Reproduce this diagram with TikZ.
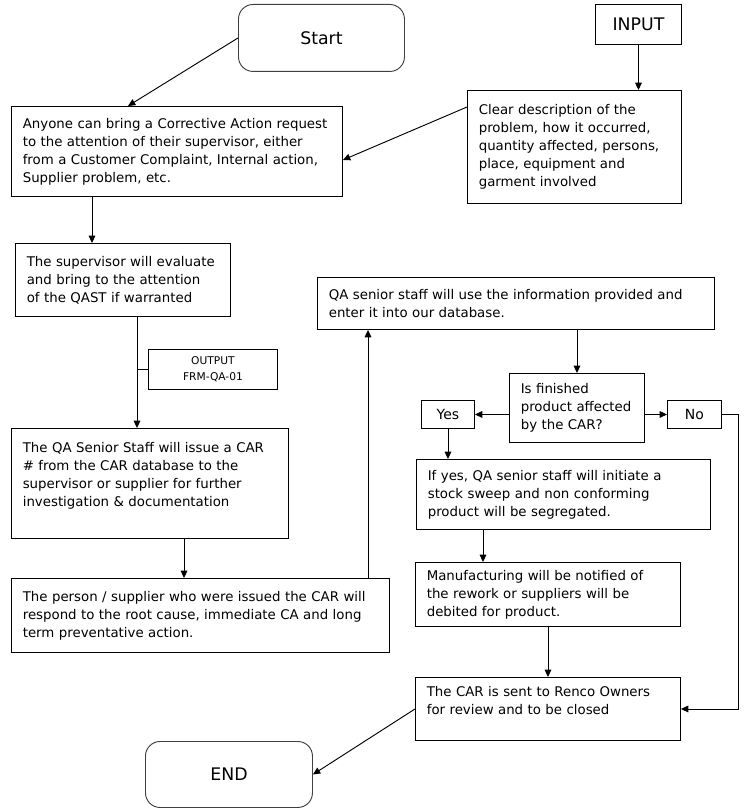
\documentclass[tikz,border=0pt]{standalone}
\usepackage{fontspec}
\setmainfont{DejaVu Sans}
\usetikzlibrary{arrows.meta, calc}

\tikzset{
  flow/.style={-{Triangle[length=5.5pt,width=5pt]}},
  stepbox/.style 2 args={draw, anchor=north west, align=left, inner xsep=8.5pt, inner ysep=0pt,
    text width=#1*0.75pt-17pt, minimum width=#1*0.75pt, minimum height=#2*0.75pt,
    font=\fontsize{10}{13.5}\selectfont},
  termbox/.style 2 args={draw=black!75, rounded corners=11pt, anchor=north west, inner sep=0pt,
    minimum width=#1*0.75pt, minimum height=#2*0.75pt, font=\fontsize{13}{15}\selectfont},
  tagbox/.style 2 args={draw, anchor=north west, align=center, inner sep=0pt,
    minimum width=#1*0.75pt, minimum height=#2*0.75pt},
}

\begin{document}
\begin{tikzpicture}[x=0.75pt, y=-0.75pt, line width=0.7pt]
    \useasboundingbox (0,0) rectangle (750,812);

    % Start and input
    \node[termbox={166}{67}] (start) at (238,4) {Start};
    \node[tagbox={86}{40}, font=\fontsize{13}{15}\selectfont] (input) at (595,4) {INPUT};

    % Left column
    \node[stepbox={331}{90}] (anyone) at (11,106) {Anyone can bring a Corrective Action request\\to the attention of their supervisor, either\\from a Customer Complaint, Internal action,\\Supplier problem, etc.};
    \node[stepbox={214}{113}] (descr) at (467,90) {Clear description of the\\problem, how it occurred,\\quantity affected, persons,\\place, equipment and\\garment involved};
    \node[stepbox={215}{73}] (superv) at (15,243) {The supervisor will evaluate\\and bring to the attention\\of the QAST if warranted};
    \node[tagbox={129}{40}, font=\fontsize{8}{12}\selectfont] (output) at (148,349) {OUTPUT\\FRM-QA-01};
    \node[stepbox={277}{110}] (issue) at (11,428) {The QA Senior Staff will issue a CAR\\\# from the CAR database to the\\supervisor or supplier for further\\investigation \& documentation\\ \mbox{}};
    \node[stepbox={378}{74}] (respond) at (11,578) {The person / supplier who were issued the CAR will\\respond to the root cause, immediate CA and long\\term preventative action.};

    % Right column
    \node[stepbox={397}{52}] (enter) at (317,277) {QA senior staff will use the information provided and\\enter it into our database.};
    \node[stepbox={135}{69}] (affected) at (509,373) {Is finished\\product affected\\by the CAR?};
    \node[tagbox={53}{28}, font=\fontsize{10.5}{12}\selectfont] (yes) at (421,400) {Yes};
    \node[tagbox={54}{28}, font=\fontsize{10.5}{12}\selectfont] (no) at (667,400) {No};
    \node[stepbox={294}{70}] (sweep) at (416,459) {If yes, QA senior staff will initiate a\\stock sweep and non conforming\\product will be segregated.};
    \node[stepbox={265}{64}] (notify) at (415,562) {Manufacturing will be notified of\\the rework or suppliers will be\\debited for product.};
    \node[stepbox={265}{63}] (closed) at (415,677) {The CAR is sent to Renco Owners\\for review and to be closed\\ \mbox{}};
    \node[termbox={167}{66}] (end) at (145,741) {END};

    % Connectors
    \draw[flow] (start.west) -- ($(anyone.north west)+(117,0)$);
    \draw[flow] (input.south) -- (input.south |- descr.north);
    \draw[flow] ($(descr.north west)+(0,17)$) -- ($(anyone.north east)+(0,54)$);
    \draw[flow] ($(anyone.south west)+(81,0)$) -- ($(superv.north west)+(77,0)$);
    \coordinate (tap) at ($(superv.south west)+(122,0)$);
    \draw[flow] (tap) -- (tap |- issue.north);
    \draw (output.west) -- (output.west -| tap);
    \draw[flow] ($(issue.south west)+(173,0)$) -- ($(respond.north west)+(173,0)$);
    \coordinate (back) at ($(respond.north west)+(357,0)$);
    \draw[flow] (back) -- (back |- enter.south);
    \draw[flow] (affected.north |- enter.south) -- (affected.north);
    \draw[flow] (yes.east -| affected.west) -- (yes.east);
    \draw[flow] (no.west -| affected.east) -- (no.west);
    \draw[flow] (yes.south) -- (yes.south |- sweep.north);
    \draw[flow] ($(sweep.south west)+(67,0)$) -- ($(notify.north west)+(68,0)$);
    \draw[flow] (notify.south) -- (closed.north);
    \draw[flow] (no.east) -- ++(17,0) |- (closed.east);
    \draw[flow] (closed.west) -- (end.east);
\end{tikzpicture}
\end{document}
